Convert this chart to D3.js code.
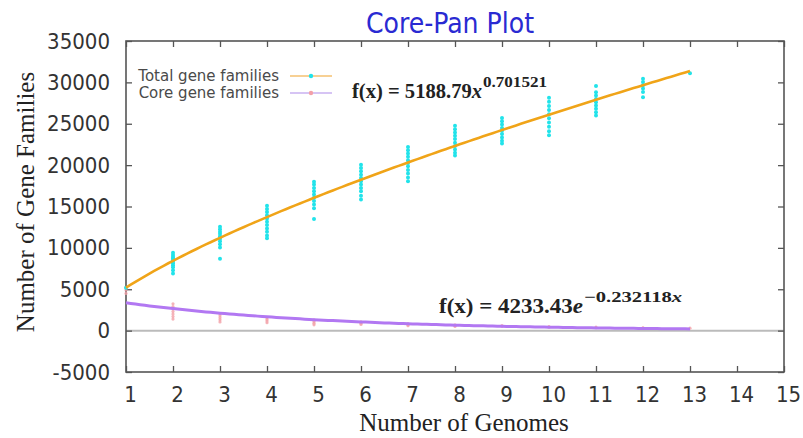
<!DOCTYPE html>
<html><head><meta charset="utf-8">
<script src="https://cdn.jsdelivr.net/npm/d3@7"></script>
<style>body{margin:0;background:#fff}svg{display:block}</style>
</head><body>
<script>
// ---- data ----
const genomes = [1,2,3,4,5,6,7,8,9,10,11,12,13];
const totalValues = [
  [5189],
  [9400,9150,8900,8750,8550,8350,8150,7900,7650,7300,6900],
  [12550,12250,11950,11700,11400,11100,10800,10450,10050,8700],
  [15100,14700,14350,13950,13550,13150,12750,12350,11950,11500,11150],
  [18000,17650,17250,16850,16450,16050,15650,15250,14800,13500],
  [20050,19650,19250,18850,18450,18050,17650,17250,16850,16300,15850],
  [22200,21800,21400,21000,20600,20250,19850,19400,19000,18500,18050],
  [24750,24350,23950,23550,23150,22700,22300,21900,21500,21150],
  [25700,25300,24900,24500,24150,23750,23350,22950,22600],
  [28150,27650,27150,26650,26150,25650,25150,24650,24100,23600],
  [29550,28800,28400,28000,27600,27200,26800,26400,26000],
  [30450,30050,29650,29250,28850,28200],
  [31100]
];
const coreValues = [
  [5200,4900,4500],
  [3250,2900,2600,2300,2000,1700,1400],
  [2050,1800,1550,1300,1050],
  [1550,1350,1150,950],
  [1300,1100,900,700],
  [1050,900,750],
  [850,700,600],
  [700,600,500],
  [600,500],
  [500,420],
  [420,350],
  [350,300],
  [300]
];
const panFit = {a:5188.79, b:0.701521};
const coreFit = {a:4233.43, b:-0.232118};
const xTicks = d3.range(1,16);
const yTicks = [-5000,0,5000,10000,15000,20000,25000,30000,35000];
const seriesNames = ["Total gene families","Core gene families"];

// ---- layout ----
const W=803,H=438;
const m={l:126,t:41,r:19,b:66};
const iw=W-m.l-m.r, ih=H-m.t-m.b;
const svg=d3.select("body").append("svg").attr("width",W).attr("height",H);
const x=d3.scaleLinear().domain([1,15]).range([m.l,m.l+iw]);
const y=d3.scaleLinear().domain([-5000,35000]).range([m.t+ih,m.t]);

const sansC='"DejaVu Sans Condensed","DejaVu Sans",sans-serif';
const serif='"Liberation Serif","Times New Roman",serif';

// zero line
svg.append("line").attr("x1",x(1)).attr("x2",x(15)).attr("y1",y(0)).attr("y2",y(0))
  .attr("stroke","#bbbbbb").attr("stroke-width",2);

// axes with inward ticks
const tickCol="#555";
function styleAxis(g){g.select(".domain").remove();g.selectAll("line").attr("stroke",tickCol).attr("stroke-width",1.3);}
svg.append("g").attr("transform",`translate(0,${m.t+ih})`)
  .call(d3.axisBottom(x).tickValues(xTicks).tickSize(-6).tickPadding(14).tickFormat(d=>String(d)))
  .call(styleAxis)
  .call(g=>g.selectAll("text").attr("font-family",sansC).attr("font-size",22).attr("fill","#333").attr("dx",4));
svg.append("g").attr("transform",`translate(0,${m.t})`)
  .call(d3.axisTop(x).tickValues(xTicks).tickSize(-6).tickFormat(""))
  .call(styleAxis);
svg.append("g").attr("transform",`translate(${m.l},0)`)
  .call(d3.axisLeft(y).tickValues(yTicks).tickSize(-6).tickPadding(16).tickFormat(d=>String(d)))
  .call(styleAxis)
  .call(g=>g.selectAll("text").attr("font-family",sansC).attr("font-size",22).attr("fill","#333"));
svg.append("g").attr("transform",`translate(${m.l+iw},0)`)
  .call(d3.axisRight(y).tickValues(yTicks).tickSize(-6).tickFormat(""))
  .call(styleAxis);

// frame
svg.append("rect").attr("x",m.l).attr("y",m.t).attr("width",iw).attr("height",ih)
  .attr("fill","none").attr("stroke","#555").attr("stroke-width",1.6);

// points
const totalPts=[],corePts=[];
genomes.forEach((g,i)=>{totalValues[i].forEach(v=>totalPts.push([g,v]));coreValues[i].forEach(v=>corePts.push([g,v]));});
svg.append("g").selectAll("circle").data(corePts).join("circle")
  .attr("cx",d=>x(d[0])).attr("cy",d=>y(d[1])).attr("r",1.6).attr("fill","#f3a0a8").attr("opacity",0.8);
svg.append("g").selectAll("circle").data(totalPts).join("circle")
  .attr("cx",d=>x(d[0])).attr("cy",d=>y(d[1])).attr("r",2).attr("fill","#22e3ea");

// fit curves
const xs=d3.range(1,13.001,0.1);
const line=d3.line().x(d=>x(d[0])).y(d=>y(d[1]));
svg.append("path").datum(xs.map(v=>[v,panFit.a*Math.pow(v,panFit.b)]))
  .attr("d",line).attr("fill","none").attr("stroke","#f0a418").attr("stroke-width",2.6);
svg.append("path").datum(xs.map(v=>[v,coreFit.a*Math.exp(coreFit.b*v)]))
  .attr("d",line).attr("fill","none").attr("stroke","#b278f2").attr("stroke-width",3);

// legend
const lg=svg.append("g");
[[81,"#f5c070","#22e3ea"],[98,"#c8b0f0","#f3a0a8"]].forEach((r,i)=>{
  lg.append("text").attr("x",279).attr("y",r[0]).attr("text-anchor","end")
    .attr("font-family",'"DejaVu Sans",sans-serif').attr("font-size",15).attr("fill","#4a4a4a").text(seriesNames[i]);
  lg.append("line").attr("x1",290).attr("x2",332).attr("y1",r[0]-5).attr("y2",r[0]-5).attr("stroke",r[1]).attr("stroke-width",1.5);
  lg.append("circle").attr("cx",311).attr("cy",r[0]-5).attr("r",2.2).attr("fill",r[2]);
});

// equations
function eq(xp,yp,main,ital,mainW,sup,supItal,supW,fs,sfs){
  const t=svg.append("text").attr("x",xp).attr("y",yp).attr("font-family",serif).attr("font-weight","bold")
    .attr("font-size",fs).attr("fill","#222").attr("textLength",mainW).attr("lengthAdjust","spacingAndGlyphs");
  t.append("tspan").text(main);
  t.append("tspan").attr("font-style","italic").text(ital);
  const s=svg.append("text").attr("x",xp+mainW+1).attr("y",yp-11).attr("font-family",serif).attr("font-weight","bold")
    .attr("font-size",sfs).attr("fill","#222").attr("textLength",supW).attr("lengthAdjust","spacingAndGlyphs");
  s.append("tspan").text(sup);
  if(supItal) s.append("tspan").attr("font-style","italic").text(supItal);
}
eq(352,98,"f(x) = 5188.79","x",130,"0.701521","",64,20,15);
eq(439,313,"f(x) = 4233.43","e",144,"\u22120.232118","x",98,21,15);

// titles
svg.append("text").attr("x",450).attr("y",33).attr("text-anchor","middle")
  .attr("font-family",sansC).attr("font-size",28).attr("fill","#2a2ad2").text("Core-Pan Plot");
svg.append("text").attr("x",464).attr("y",431).attr("text-anchor","middle")
  .attr("font-family",serif).attr("font-size",25).attr("fill","#222").text("Number of Genomes");
svg.append("text").attr("transform","translate(34,202) rotate(-90)").attr("text-anchor","middle")
  .attr("font-family",serif).attr("font-size",25).attr("fill","#222").text("Number of Gene Families");
</script>
</body></html>
